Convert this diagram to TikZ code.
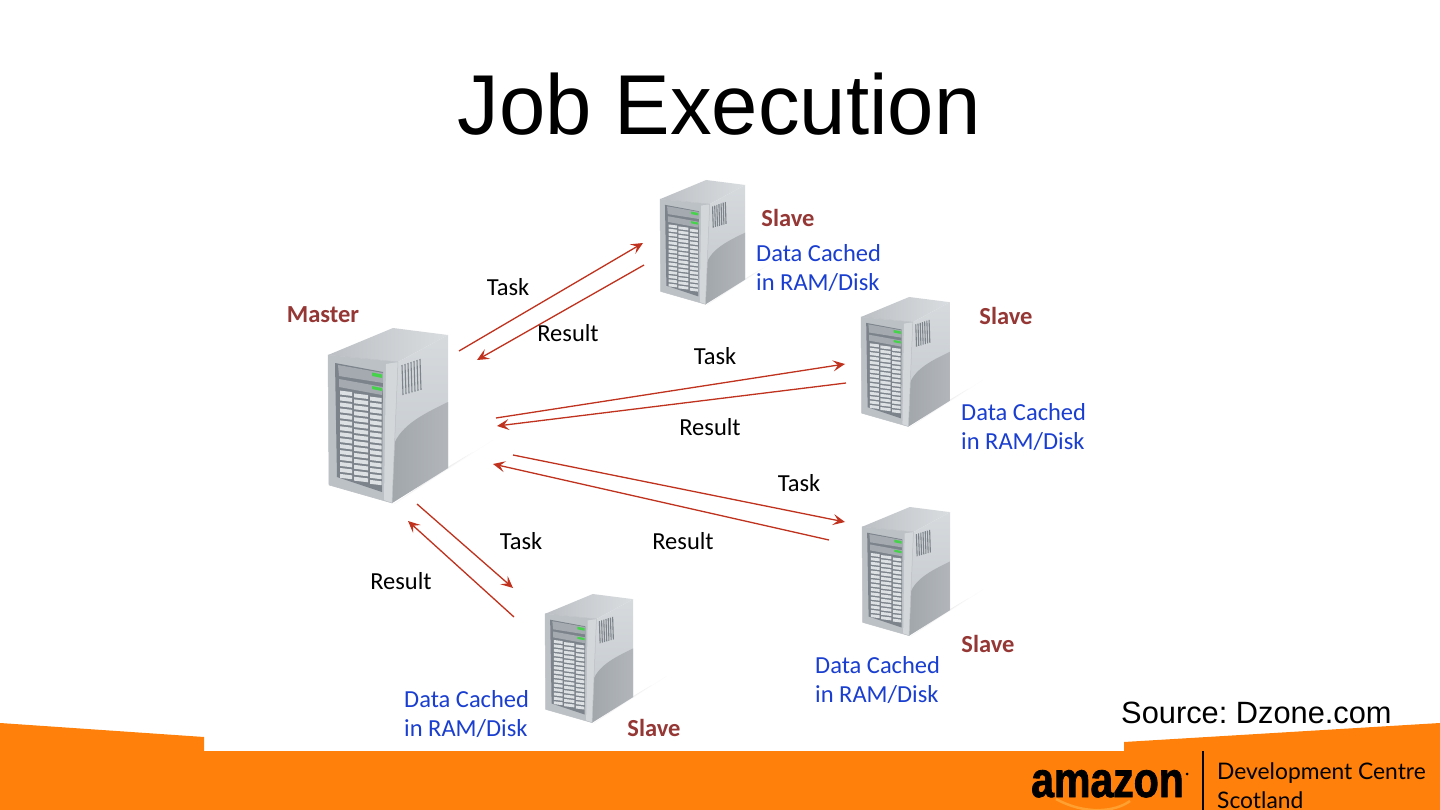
\documentclass[tikz,border=0pt]{standalone}
\usepackage{fontspec}
\usetikzlibrary{arrows.meta}
\setmainfont{Carlito}
\newfontfamily\titlefont{Liberation Sans}[FakeStretch=0.98]
\newfontfamily\srcfont{Liberation Sans}
\newfontfamily\amzfont{Liberation Sans}[FakeStretch=0.82,BoldFeatures={FakeBold=1.6}]
\newfontfamily\dcfont{Lato}
\definecolor{orangeb}{HTML}{FF800A}
\definecolor{smilec}{HTML}{FFA030}
\definecolor{arrowc}{HTML}{C0321E}
\definecolor{slavec}{HTML}{953735}
\definecolor{cachec}{HTML}{1A3FD0}
\definecolor{frontc}{HTML}{BCC1C6}
\definecolor{topa}{HTML}{BCC0C4}
\definecolor{topb}{HTML}{DADDE0}
\definecolor{sideu}{HTML}{C2C7CC}
\definecolor{sideub}{HTML}{D6DADD}
\definecolor{sidel}{HTML}{A2A7AC}
\definecolor{sidelb}{HTML}{B2B6BA}
\definecolor{framec}{HTML}{7C838A}
\definecolor{bayc}{HTML}{A4AAB0}
\definecolor{diskc}{HTML}{DEE1E4}
\definecolor{ledc}{HTML}{46D24A}
\tikzset{
  flow/.style={draw=arrowc,line width=1.3pt,-{Stealth[length=12pt,width=11pt,inset=5pt]}},
  lab/.style={font=\fontsize{24.5}{29}\selectfont,text=black,inner sep=0pt},
  slavelab/.style={font=\fontsize{24.5}{29}\selectfont\bfseries,text=slavec,inner sep=0pt},
  cache/.style={font=\fontsize{24.5}{29}\selectfont,text=cachec,inner sep=0pt,align=left},
  server/.pic={
    % shadow
    \fill[black!3] (118,142) -- (165,112) -- (66,176) -- cycle;
    \fill[black!6] (118,140) -- (145,124) -- (66,176) -- cycle;
    % top
    \shade[left color=topa,right color=topb] (0,27) -- (65,0) -- (120,7) -- (70,34) -- cycle;
    % side
    \shade[bottom color=sideu,top color=sideub] (70,34) -- (120,7) -- (120,140) -- (64,175) -- cycle;
    \shade[left color=sidel,right color=sidelb] (65,119) .. controls (72,96) and (100,84) .. (120,74) -- (120,140) -- (64,175) -- cycle;
    % front
    \fill[frontc] (0,27) -- (70,34) -- (64,175) -- (1,157) -- cycle;
    \fill[white!35!frontc] (58,36) -- (70,34) -- (64,175) -- (56,172) -- cycle;
    \draw[framec!50,line width=.5pt] (0,27) -- (70,34) -- (64,175) -- (1,157) -- cycle;
    % vent
    \foreach \i in {0,...,6}{
      \draw[framec,line width=1.1pt] ({74+\i*3},{37-\i}) -- ({75+\i*3},{67-\i*.85});
    }
    % drive bays
    \fill[framec] (7,35) -- (55,44) -- (54,164) -- (9,149) -- cycle;
    \fill[bayc] (10,37) -- (55,45) -- (55,55) -- (11,48) -- cycle;
    \fill[bayc] (11,51) -- (55,59) -- (54,67) -- (11,59) -- cycle;
    \fill[ledc] (44,44.5) -- (54,46.5) -- (54,50) -- (44,48) -- cycle;
    \fill[ledc] (44,58) -- (54,60) -- (54,63) -- (44,61) -- cycle;
    \foreach \dx/\ww in {12/12,26/14,42/11.5}{
      \foreach \r in {0,...,14}{
        \pgfmathsetmacro{\ya}{63+\r*5.95+(\dx-14)*.2}
        \fill[diskc] (\dx,\ya) -- ++(\ww,{\ww*.12}) -- ++(0,3.9) -- ++(-\ww,{-\ww*.12}) -- cycle;
      }
    }
  }
}
\begin{document}
\begin{tikzpicture}[x=1pt,y=-1pt]
\useasboundingbox (0,0) rectangle (1440,810);
\fill[white] (0,0) rectangle (1440,810);
\clip (0,0) rectangle (1440,810);
% band
\fill[orangeb] (0,723) -- (204,737) -- (204,751) -- (1124,751) -- (1124,742) -- (1440,723) -- (1440,810) -- (0,810) -- cycle;
% title
\node[font=\titlefont\fontsize{85}{100}\selectfont,inner sep=0pt,anchor=base] (title) at (719,135) {Job Execution};
% servers
\pic[scale=1] at (328,328) {server};
\pic[scale=.71] at (660,180) {server};
\pic[scale=.74] at (861,297) {server};
\pic[scale=.735] at (862,507) {server};
\pic[scale=.735] at (545,594) {server};
% connector end points
\coordinate (ta1) at (459,351); \coordinate (tb1) at (643,243);
\coordinate (ra1) at (644,265); \coordinate (rb1) at (477,360);
\coordinate (ta2) at (496,418); \coordinate (tb2) at (845,364);
\coordinate (ra2) at (846,383); \coordinate (rb2) at (497,426);
\coordinate (ta3) at (513,455); \coordinate (tb3) at (845,522);
\coordinate (ra3) at (829,540); \coordinate (rb3) at (493,464);
\coordinate (ta4) at (417,504); \coordinate (tb4) at (513,588);
\coordinate (ra4) at (514,617); \coordinate (rb4) at (408,521);
\foreach \n in {1,2,3,4}{
  \draw[flow] (ta\n) -- (tb\n);
  \draw[flow] (ra\n) -- (rb\n);
}
% labels
\node[lab] (l1) at (508,287) {Task};
\node[lab] (l2) at (568,333) {Result};
\node[lab] (l3) at (715,356) {Task};
\node[lab] (l4) at (710,427) {Result};
\node[lab] (l5) at (799,483) {Task};
\node[lab] (l6) at (683,541) {Result};
\node[lab] (l7) at (521,541) {Task};
\node[lab] (l8) at (401,581) {Result};
\node[slavelab] (m) at (323,315) {Master};
\node[slavelab] (sl1) at (788,218) {Slave};
\node[slavelab] (sl2) at (1006,316) {Slave};
\node[slavelab] (sl3) at (988,644) {Slave};
\node[slavelab] (sl4) at (654,728) {Slave};
\node[cache,anchor=west] (c1) at (756,268) {Data Cached\\in RAM/Disk};
\node[cache,anchor=west] (c2) at (961,427) {Data Cached\\in RAM/Disk};
\node[cache,anchor=west] (c3) at (815,680) {Data Cached\\in RAM/Disk};
\node[cache,anchor=west] (c4) at (404,714) {Data Cached\\in RAM/Disk};
\node[font=\srcfont\fontsize{30.8}{36}\selectfont\frenchspacing,inner sep=0pt,anchor=base west] (src) at (1121,723) {Source: Dzone.com};
% logo
\draw[smilec,line width=2.5pt] (1056,799) .. controls (1085,815) and (1115,812) .. (1130,801);
\node[font=\amzfont\bfseries\fontsize{50}{54}\selectfont,inner sep=0pt,anchor=base west] (amz) at (1031,797) {amazon};
\fill[black] (1187,774) circle (1.5);
\draw[line width=1.2pt,black] (1203,751) -- (1203,810);
\node[font=\dcfont\fontsize{22.8}{28}\selectfont,inner sep=0pt,anchor=base west] (dc1) at (1217,779) {Development Centre};
\node[font=\dcfont\fontsize{22.8}{28}\selectfont,inner sep=0pt,anchor=base west] (dc2) at (1217,808) {Scotland};
\end{tikzpicture}
\end{document}
